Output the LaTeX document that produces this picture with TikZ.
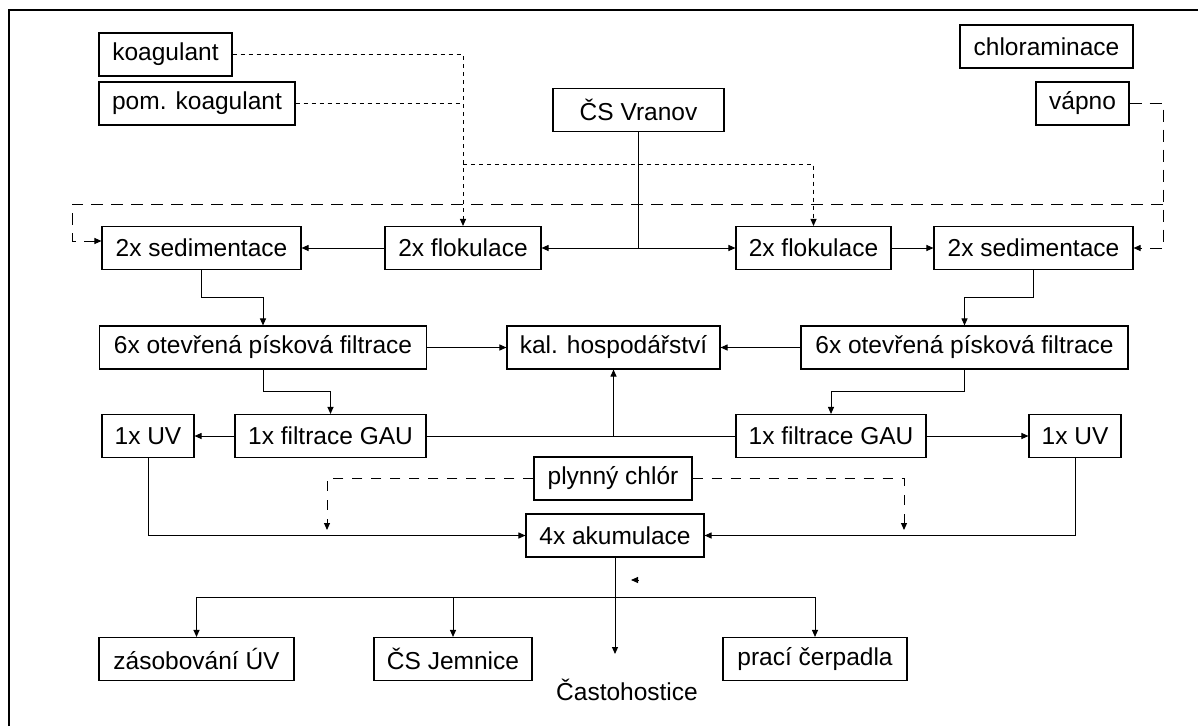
\documentclass[tikz,border=0pt]{standalone}
\usepackage{fontspec}
\setmainfont{Liberation Sans}
\usetikzlibrary{arrows.meta, calc}

\begin{document}
\begin{tikzpicture}[x=1pt, y=-1pt, line width=1pt,
  box/.style={draw, line width=1.1pt, inner sep=0pt, minimum height=43pt,
    font=\fontsize{24.5}{29}\selectfont},
  sip/.style={-{Triangle[length=7pt,width=6pt]}},
  tecky/.style={dash pattern=on 4pt off 4pt},
  carky/.style={dash pattern=on 12pt off 8pt},
  carky2/.style={dash pattern=on 10pt off 9pt}]
\useasboundingbox (0,0) rectangle (1198,726);

% Ramecek
\draw[line width=2pt] (9,726) -- (9,10) -- (1198,10);

% Chemikalie a zdroj
\node[box, minimum width=133pt] (koag) at (165.5,54.5) {koagulant};
\node[box, minimum width=196pt] (pkoag) at (197,103.5) {pom. koagulant};
\node[box, minimum width=171pt] (vranov) at (638.5,110) {ČS Vranov};
\node[box, minimum width=173pt] (chlam) at (1046.5,46.5) {chloraminace};
\node[box, minimum width=93pt] (vapno) at (1082.5,103.5) {vápno};

% Flokulace a sedimentace
\node[box, minimum width=199pt] (sedL) at (201.5,248) {2x sedimentace};
\node[box, minimum width=156pt] (flokL) at (463,248) {2x flokulace};
\node[box, minimum width=155pt] (flokR) at (813.5,248) {2x flokulace};
\node[box, minimum width=199pt] (sedR) at (1033.5,248) {2x sedimentace};

% Filtrace
\node[box, minimum width=327pt] (otfL) at (263,347.5) {6x otevřená písková filtrace};
\node[box, minimum width=213pt] (kal) at (613.5,347.5) {kal. hospodářství};
\node[box, minimum width=327pt] (otfR) at (964.5,347.5) {6x otevřená písková filtrace};
\node[box, minimum width=92pt] (uvL) at (148,436) {1x UV};
\node[box, minimum width=191pt] (gauL) at (330.5,436) {1x filtrace GAU};
\node[box, minimum width=190pt] (gauR) at (831,436) {1x filtrace GAU};
\node[box, minimum width=92pt] (uvR) at (1075,436) {1x UV};

% Hygienizace a akumulace
\node[box, minimum width=158pt] (chlor) at (613,478.5) {plynný chlór};
\node[box, minimum width=178pt] (akum) at (615,535.5) {4x akumulace};

% Odbery
\node[box, minimum width=195pt] (zas) at (196.5,659) {zásobování ÚV};
\node[box, minimum width=158pt] (jem) at (453,659) {ČS Jemnice};
\node[box, minimum width=184pt] (prac) at (815,659) {prací čerpadla};
\node[anchor=base, inner sep=0pt, font=\fontsize{24.5}{29}\selectfont] (casto) at (627,700) {Častohostice};

% Pomocne body
\coordinate (odb) at (463,164);
\coordinate (vpravo) at (1163,204);
\coordinate (vlevo) at (72,204);
\coordinate (chlL) at (327,530);
\coordinate (chlR) at (904,530);
\coordinate (konec) at (615,654);
\coordinate (rozv) at (615,597);
\coordinate (hrot) at (631,580);

% Davkovani chemikalii
\draw[tecky, sip] (koag.east) -| (flokL.north);
\draw[tecky] (pkoag.east) -- (pkoag.east -| flokL.north);
\draw[tecky, sip] (odb) -| (flokR.north);
\draw[carky, sip] (vapno.east) -- ++(34,0) |- (sedR.east);
\draw[carky, sip] (vpravo) -- (vlevo) |- ([yshift=7pt]sedL.west);

% Surova voda
\draw (vranov.south) -- (vranov.south |- flokL.east) coordinate (rozdel);
\draw[sip] (rozdel) -- (flokL.east);
\draw[sip] (rozdel) -- (flokR.west);
\draw[sip] (flokL.west) -- (sedL.east);
\draw[sip] (flokR.east) -- (sedR.west);

% Sedimentace -> filtrace
\draw[sip] (sedL.south) |- ($(sedL.south)!.5!(otfL.north)$) -| (otfL.north);
\draw[sip] (sedR.south) |- ($(sedR.south)!.5!(otfR.north)$) -| (otfR.north);
\draw[sip] (otfL.south) |- ($(otfL.south)!.5!(gauL.north)$) -| (gauL.north);
\draw[sip] (otfR.south) |- ($(otfR.south)!.5!(gauR.north)$) -| (gauR.north);
\draw[sip] (otfL.east) -- (kal.west);
\draw[sip] (otfR.west) -- (kal.east);
\draw[sip] (gauL.west) -- (uvL.east);
\draw[sip] (gauR.east) -- (uvR.west);
\draw (gauL.east) -- (gauR.west);
\draw[sip] (kal.south |- gauL.east) -- (kal.south);

% Chlor a akumulace
\draw[carky2, sip] (chlor.west) -| (chlL);
\draw[carky2, sip] (chlor.east) -| (chlR);
\draw[sip] (uvL.south) |- (akum.west);
\draw[sip] (uvR.south) |- (akum.east);
\draw[sip] (akum.south) -- (konec);
\draw[sip] ([xshift=7pt]hrot) -- (hrot);

% Rozvod
\draw (zas.north |- rozv) -- (prac.north |- rozv);
\draw[sip] (zas.north |- rozv) -- (zas.north);
\draw[sip] (jem.north |- rozv) -- (jem.north);
\draw[sip] (prac.north |- rozv) -- (prac.north);
\end{tikzpicture}
\end{document}
